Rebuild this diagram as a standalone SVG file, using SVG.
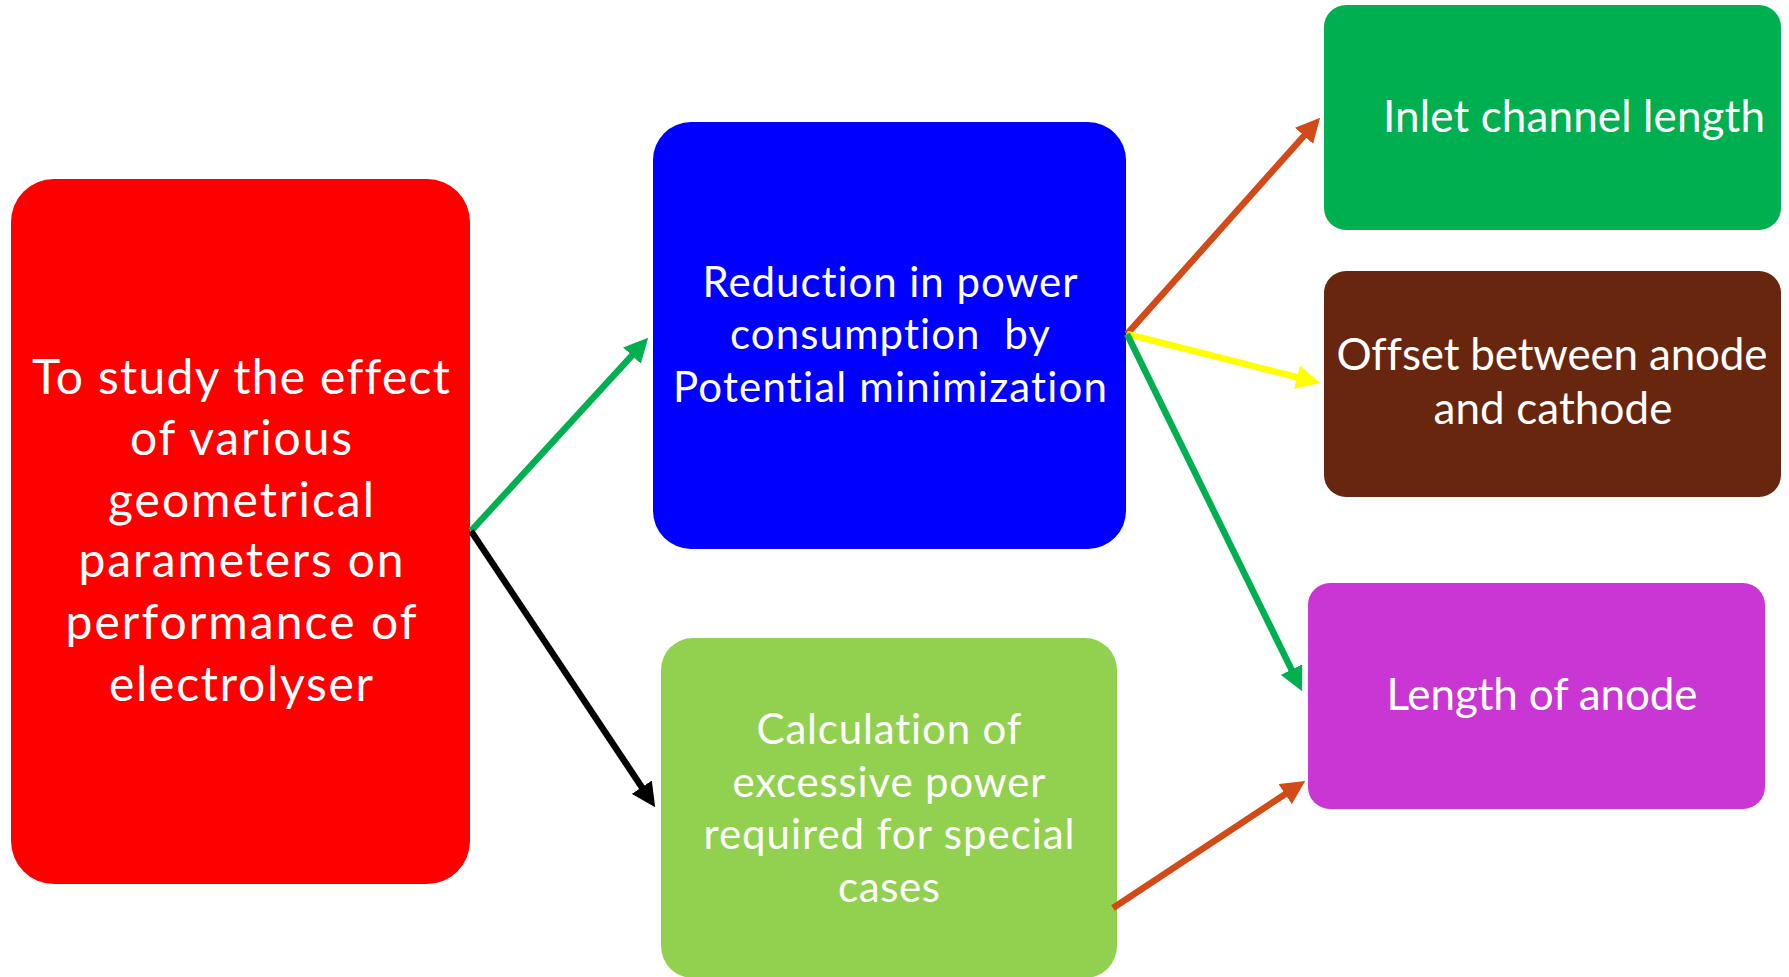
<svg xmlns="http://www.w3.org/2000/svg" width="1789" height="977" viewBox="0 0 1789 977">
<style>
.t{font-family:Lato,"Open Sans","Liberation Sans",sans-serif;fill:#fff;text-anchor:middle;font-variant-ligatures:none;font-feature-settings:"liga" 0,"clig" 0;}
.big{font-size:48px;}
.mid{font-size:42px;}
.lab{font-size:44px;}
.c{fill:none;stroke-width:6.5;}
</style>
<defs>
<marker id="hGreen" viewBox="0 0 10 10" refX="2" refY="5" markerWidth="3.7" markerHeight="3.7" orient="auto"><path d="M0,0 L10,5 L0,10 z" fill="#00B050"/></marker>
<marker id="hBlack" viewBox="0 0 10 10" refX="2" refY="5" markerWidth="3.7" markerHeight="3.7" orient="auto"><path d="M0,0 L10,5 L0,10 z" fill="#000"/></marker>
<marker id="hOrange" viewBox="0 0 10 10" refX="2" refY="5" markerWidth="3.7" markerHeight="3.7" orient="auto"><path d="M0,0 L10,5 L0,10 z" fill="#D24A17"/></marker>
<marker id="hYellow" viewBox="0 0 10 10" refX="2" refY="5" markerWidth="3.7" markerHeight="3.7" orient="auto"><path d="M0,0 L10,5 L0,10 z" fill="#FFFF00"/></marker>
</defs>
<rect width="1789" height="977" fill="#fff"/>
<g id="node-goal">
<rect x="11" y="179" width="459" height="705" rx="43" fill="#FF0000"/>
<text class="t big" x="241" y="394" textLength="418">To study the effect</text>
<text class="t big" x="241" y="455" textLength="222">of various</text>
<text class="t big" x="241" y="517" textLength="266">geometrical</text>
<text class="t big" x="241" y="577" textLength="325">parameters on</text>
<text class="t big" x="241" y="639" textLength="351">performance of</text>
<text class="t big" x="241" y="701" textLength="264">electrolyser</text>
</g>
<g id="node-reduction">
<rect x="653" y="122" width="473" height="427" rx="38" fill="#0000FF"/>
<text class="t mid" x="890" y="297" textLength="375">Reduction in power</text>
<text class="t mid" x="890" y="349" textLength="320" xml:space="preserve">consumption  by</text>
<text class="t mid" x="890" y="402" textLength="434">Potential minimization</text>
</g>
<g id="node-calculation">
<rect x="661" y="638" width="456" height="340" rx="32" fill="#92D050"/>
<text class="t mid" x="889" y="744" textLength="265">Calculation of</text>
<text class="t mid" x="889" y="797" textLength="313">excessive power</text>
<text class="t mid" x="889" y="849" textLength="371">required for special</text>
<text class="t mid" x="889" y="902" textLength="102">cases</text>
</g>
<g id="node-inlet">
<rect x="1324" y="5" width="457" height="225" rx="22" fill="#00B050"/>
<text class="t lab" x="1574" y="132" textLength="382">Inlet channel length</text>
</g>
<g id="node-offset">
<rect x="1324" y="271" width="457" height="226" rx="22" fill="#68260E"/>
<text class="t lab" x="1552" y="370" textLength="431">Offset between anode</text>
<text class="t lab" x="1553" y="424" textLength="239">and cathode</text>
</g>
<g id="node-length">
<rect x="1308" y="583" width="457" height="226" rx="22" fill="#C936D4"/>
<text class="t lab" x="1542" y="710" textLength="311">Length of anode</text>
</g>
<g id="connectors">
<line class="c" x1="471" y1="531" x2="635.2" y2="352" stroke="#00B050" marker-end="url(#hGreen)"/>
<line class="c" x1="471" y1="531" x2="644.5" y2="791.2" stroke="#000" marker-end="url(#hBlack)"/>
<line class="c" x1="1127" y1="334" x2="1307.3" y2="132.2" stroke="#D24A17" marker-end="url(#hOrange)"/>
<line class="c" x1="1127" y1="334" x2="1301.6" y2="378.3" stroke="#FFFF00" marker-end="url(#hYellow)"/>
<line class="c" x1="1127" y1="334" x2="1293.6" y2="673.9" stroke="#00B050" marker-end="url(#hGreen)"/>
<line class="c" x1="1113" y1="908" x2="1289.2" y2="791.5" stroke="#D24A17" marker-end="url(#hOrange)"/>
</g>
</svg>
